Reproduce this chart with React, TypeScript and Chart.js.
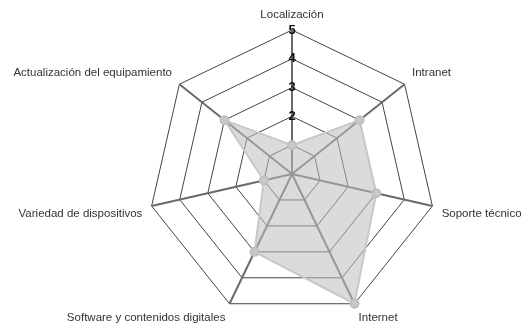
import React, { useEffect, useRef } from "react";
import { Chart, registerables } from "chart.js";

Chart.register(...registerables);

const categories: string[] = [
  "Localización",
  "Intranet",
  "Soporte técnico",
  "Internet",
  "Software y contenidos digitales",
  "Variedad de dispositivos",
  "Actualización del equipamiento",
];
const values: number[] = [1, 3, 3, 5, 3, 1, 3];
const scaleMin = 0;
const scaleMax = 5;
const hiddenTicks: number[] = [0, 1];

// layout of the radial scale (center and radius in canvas pixels)
const LAYOUT_CENTER_X = 292;
const LAYOUT_CENTER_Y = 174;
const LAYOUT_RADIUS = 144;

const fixRadialLayout = {
  id: "fixRadialLayout",
  beforeLayout(chart: any) {
    const s = chart.scales.r;
    if (s && !s.__patched) {
      s.__patched = true;
      s.setCenterPoint = function () {
        this.xCenter = LAYOUT_CENTER_X;
        this.yCenter = LAYOUT_CENTER_Y;
        this.drawingArea = LAYOUT_RADIUS;
      };
    }
  },
};

export default function App() {
  const ref = useRef<HTMLCanvasElement | null>(null);
  useEffect(() => {
    document.body.style.margin = "0";
    const ctx = ref.current!;
    const chart = new Chart(ctx, {
      type: "radar",
      data: {
        labels: categories,
        datasets: [
          {
            data: values,
            backgroundColor: "rgba(190,190,190,0.55)",
            borderColor: "#c8c8c8",
            borderWidth: 2,
            pointBackgroundColor: "#c8c8c8",
            pointBorderColor: "#c0c0c0",
            pointRadius: 4,
            fill: true,
          },
        ],
      },
      plugins: [fixRadialLayout],
      options: {
        animation: false,
        responsive: false,
        maintainAspectRatio: false,
        plugins: { legend: { display: false }, tooltip: { enabled: false } },
        scales: {
          r: {
            min: scaleMin,
            max: scaleMax,
            beginAtZero: true,
            angleLines: { color: "#6a6a6a", lineWidth: 2 },
            grid: { color: "#444", lineWidth: 1 },
            pointLabels: {
              font: { family: "'Liberation Sans', Arial, sans-serif", size: 11.5, lineHeight: 1 },
              color: "#333",
              padding: 1,
            },
            ticks: {
              stepSize: 1,
              showLabelBackdrop: false,
              color: "#111",
              font: { family: "'Liberation Sans', Arial, sans-serif", size: 13, weight: "bold" },
              callback: (v: any) => (hiddenTicks.includes(Number(v)) ? "" : String(v)),
              z: 1,
            },
          },
        },
      },
    } as any);
    return () => chart.destroy();
  }, []);
  return (
    <canvas
      ref={ref}
      width={526}
      height={326}
      style={{ position: "absolute", left: 0, top: 0, width: 526, height: 326 }}
    />
  );
}
